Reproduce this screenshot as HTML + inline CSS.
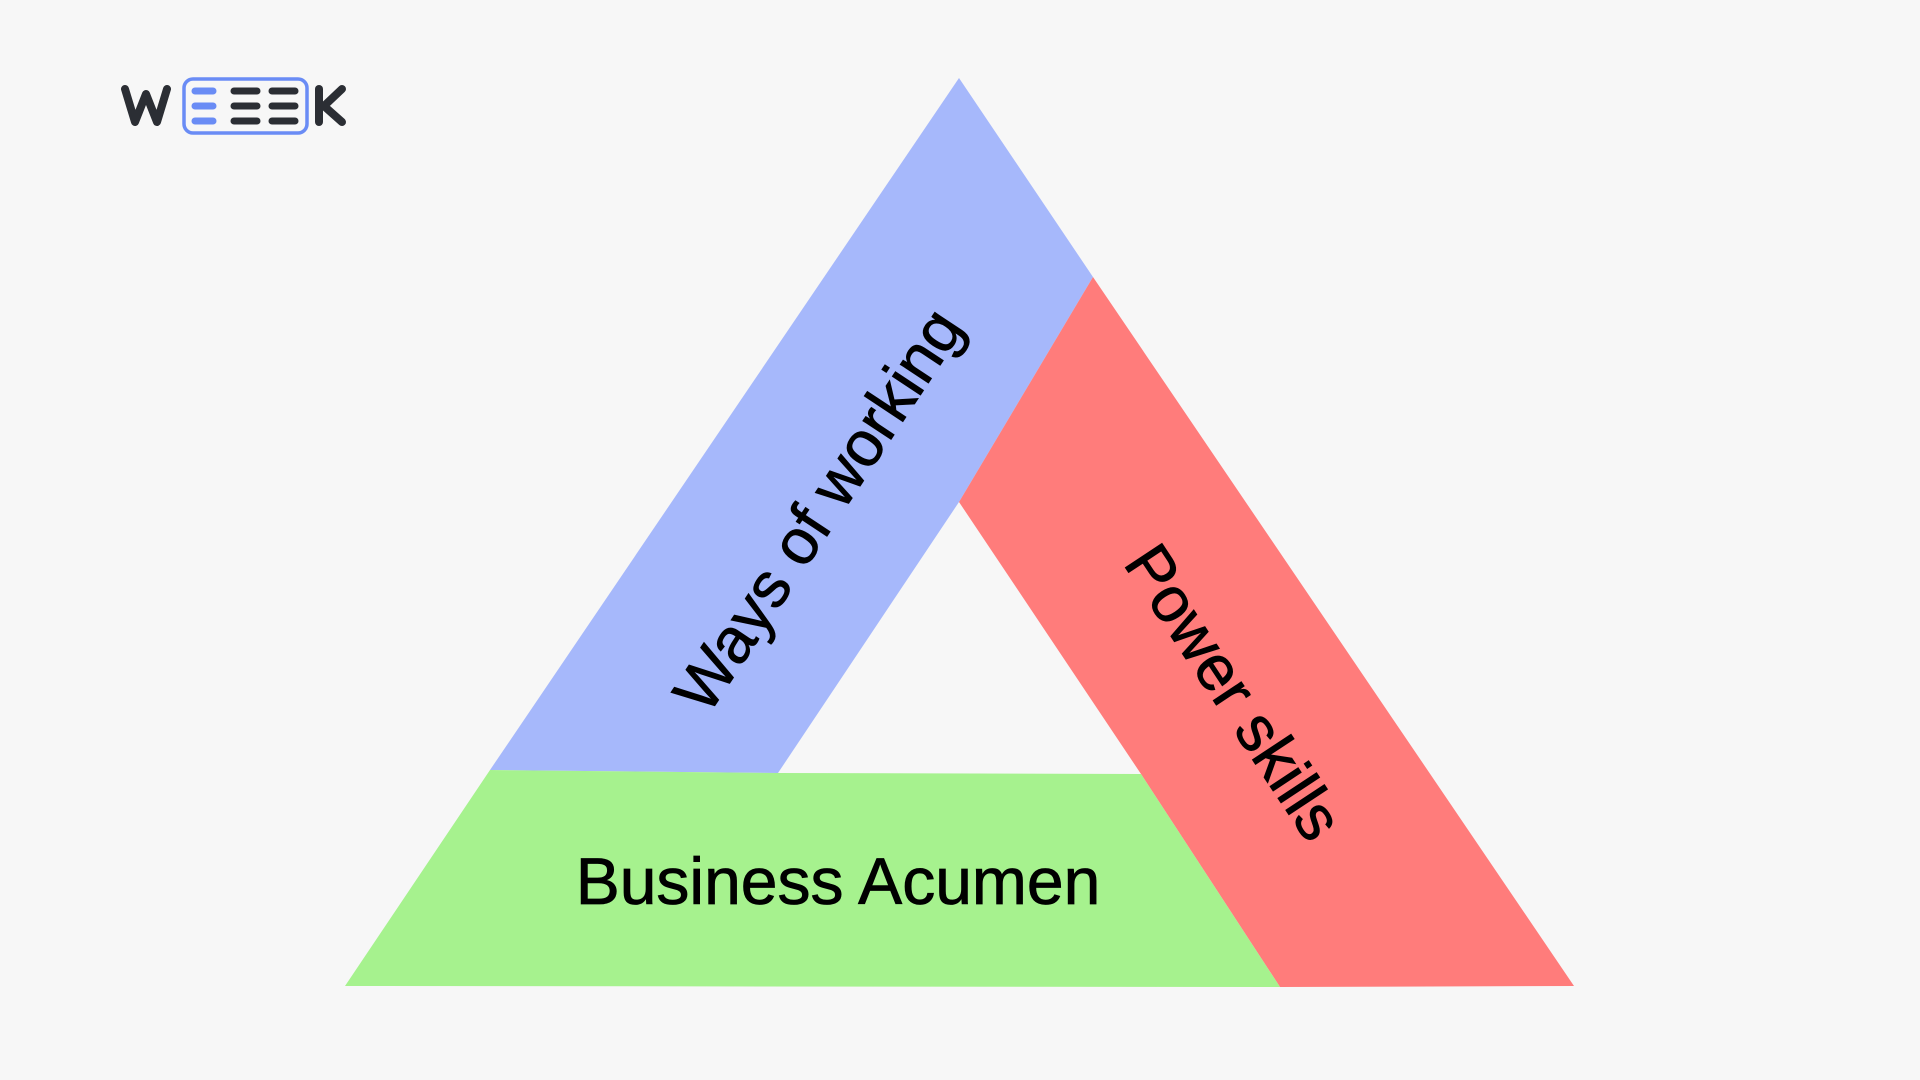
<!DOCTYPE html>
<html><head><meta charset="utf-8"><style>
html,body{margin:0;padding:0;background:#f7f7f7;}
svg{display:block}
</style></head><body>
<svg width="1920" height="1080" viewBox="0 0 1920 1080" xmlns="http://www.w3.org/2000/svg">
<rect width="1920" height="1080" fill="#f7f7f7"/>
<polygon points="959,78 1093,277 959,502 778,773 490,770" fill="#a6b8fb"/>
<polygon points="1093,277 1574,986 1280,987 1141,774 959,502" fill="#ff7c7b"/>
<polygon points="490,770 778,773 1141,774 1280,987 345,986" fill="#a6f28e"/>
<g font-family="Liberation Sans, sans-serif" fill="#000" stroke="#000" stroke-width="0.8">
<text x="838" y="904" font-size="66" text-anchor="middle">Business Acumen</text>
<text transform="translate(818,510) rotate(-56.5)" font-size="64" text-anchor="middle" dominant-baseline="central">Ways of working</text>
<text transform="translate(1234,692) rotate(56.5)" font-size="64" text-anchor="middle" dominant-baseline="central">Power skills</text>
</g>
<!-- logo -->
<g stroke-linecap="round" stroke-linejoin="round" fill="none">
<polyline points="125,89 135,122 146,94 157,122 167,89" stroke="#2b2e34" stroke-width="8"/>
<rect x="184" y="79" width="123" height="54" rx="9" stroke="#6a8cf5" stroke-width="3.5"/>
<g stroke-width="7">
<line x1="195" y1="91" x2="213" y2="91" stroke="#6a8cf5"/>
<line x1="195" y1="106" x2="213" y2="106" stroke="#6a8cf5"/>
<line x1="195" y1="121" x2="213" y2="121" stroke="#6a8cf5"/>
<line x1="234" y1="91" x2="257" y2="91" stroke="#2b2e34"/>
<line x1="234" y1="106" x2="257" y2="106" stroke="#2b2e34"/>
<line x1="234" y1="121" x2="257" y2="121" stroke="#2b2e34"/>
<line x1="272" y1="91" x2="295" y2="91" stroke="#2b2e34"/>
<line x1="272" y1="106" x2="295" y2="106" stroke="#2b2e34"/>
<line x1="272" y1="121" x2="295" y2="121" stroke="#2b2e34"/>
</g>
<line x1="319" y1="89" x2="319" y2="122" stroke="#2b2e34" stroke-width="8"/>
<polyline points="342,89 324,106 342,122" stroke="#2b2e34" stroke-width="8"/>
</g>
</svg>
</body></html>
